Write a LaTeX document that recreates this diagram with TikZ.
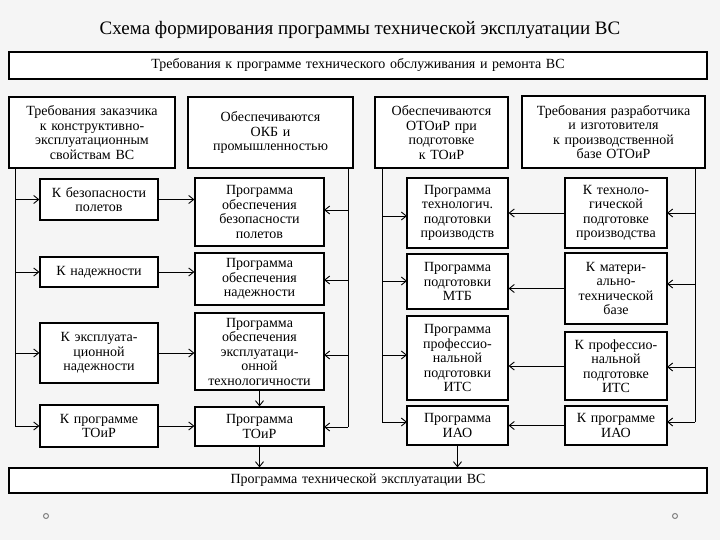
\documentclass[tikz,border=0pt]{standalone}
\usepackage{fontspec}
\setmainfont{Liberation Serif}
\usetikzlibrary{arrows.meta}
\begin{document}
\begin{tikzpicture}[x=1pt,y=-1pt,
  bx/.style={draw,line width=1.2pt,fill=white,align=center,inner sep=1pt,font=\fontsize{14}{14.5}\selectfont},
  ar/.style={-{Straight Barb[length=5pt,width=8pt]},line width=0.9pt},
  ln/.style={line width=0.9pt}]
\useasboundingbox[fill=white] (0,0) rectangle (720,540);
\fill[gray!8] (0,0) rectangle (720,540);
\node[font=\fontsize{19}{19}\selectfont] (title) at (360,30) {Схема формирования программы технической эксплуатации ВС};
\newcommand{\bb}[6]{\node[bx,minimum width=#4-#2,minimum height=#5-#3,text width=#4-#2-4] (#1) at ({(#2+#4)/2},{(#3+#5)/2}) {#6};}
\bb{top}{9}{52}{707}{79}{Требования к программе технического обслуживания и ремонта ВС}
\bb{zak}{9}{97}{175}{168}{Требования заказчика\\к конструктивно-\\эксплуатационным\\свойствам ВС}
\bb{okb}{188}{97}{353}{168}{Обеспечиваются\\ОКБ и\\промышленностью}
\bb{oto}{375}{97}{508}{168}{Обеспечиваются\\ОТОиР при\\подготовке\\к ТОиР}
\bb{raz}{522}{96}{705}{168}{Требования разработчика\\и изготовителя\\к производственной\\базе ОТОиР}
\bb{k1}{40}{179}{158}{220}{К безопасности\\полетов}
\bb{k2}{40}{257}{158}{287}{К надежности}
\bb{k3}{40}{323}{158}{383}{К эксплуата-\\ционной\\надежности}
\bb{k4}{40}{405}{158}{447}{К программе\\ТОиР}
\bb{p1}{195}{178}{324}{246}{Программа\\обеспечения\\безопасности\\полетов}
\bb{p2}{195}{253}{324}{305}{Программа\\обеспечения\\надежности}
\bb{p3}{195}{313}{324}{390}{Программа\\обеспечения\\эксплуатаци-\\онной\\технологичности}
\bb{p4}{195}{407}{324}{446}{Программа\\ТОиР}
\bb{q1}{407}{178}{508}{248}{Программа\\технологич.\\подготовки\\производств}
\bb{q2}{407}{254}{508}{309}{Программа\\подготовки\\МТБ}
\bb{q3}{407}{316}{508}{400}{Программа\\профессио-\\нальной\\подготовки\\ИТС}
\bb{q4}{407}{406}{508}{445}{Программа\\ИАО}
\bb{r1}{565}{178}{667}{248}{К техноло-\\гической\\подготовке\\производства}
\bb{r2}{565}{253}{667}{324}{К матери-\\ально-\\технической\\базе}
\bb{r3}{565}{332}{667}{400}{К профессио-\\нальной\\подготовке\\ИТС}
\bb{r4}{565}{406}{667}{445}{К программе\\ИАО}
\bb{bot}{9}{468}{707}{493}{Программа технической эксплуатации ВС}
% left spine
\coordinate (lA) at (15,168);
\draw[ln] (lA) -- (15,426);
\foreach \k in {k1,k2,k3,k4} {\draw[ar] (15,0 |- \k.west) -- (\k.west);}
\foreach \k/\p in {k1/p1,k2/p2,k3/p3,k4/p4} {\draw[ar] (\k.east) -- (\k.east -| \p.west);}
% OKB spine
\draw[ln] (348,168) -- (348,427);
\draw[ar] (348,210) -- (324,210);
\draw[ar] (348,280) -- (324,280);
\draw[ar] (348,355) -- (324,355);
\draw[ar] (348,427) -- (324,427);
\draw[ar] (p3.south) -- (p4.north);
\draw[ar] (p4.south) -- (p4.south |- bot.north);
% OTO spine
\draw[ln] (382,168) -- (382,422);
\draw[ar] (382,216) -- (407,216);
\draw[ar] (382,281) -- (407,281);
\draw[ar] (382,355) -- (407,355);
\draw[ar] (382,422) -- (407,422);
% right spine
\draw[ln] (695,168) -- (695,422);
\draw[ar] (695,213) -- (667,213);
\draw[ar] (695,284) -- (667,284);
\draw[ar] (695,367) -- (667,367);
\draw[ar] (695,422) -- (667,422);
\foreach \r/\q in {r1/q1,r2/q2,r3/q3,r4/q4} {\draw[ar] (\r.west) -- (\r.west -| \q.east);}
\draw[ar] (q4.south) -- (q4.south |- bot.north);
% decorative dots
\draw[gray,line width=1pt] (46,516) circle (2.5);
\draw[gray,line width=1pt] (675,516) circle (2.5);
\end{tikzpicture}
\end{document}
